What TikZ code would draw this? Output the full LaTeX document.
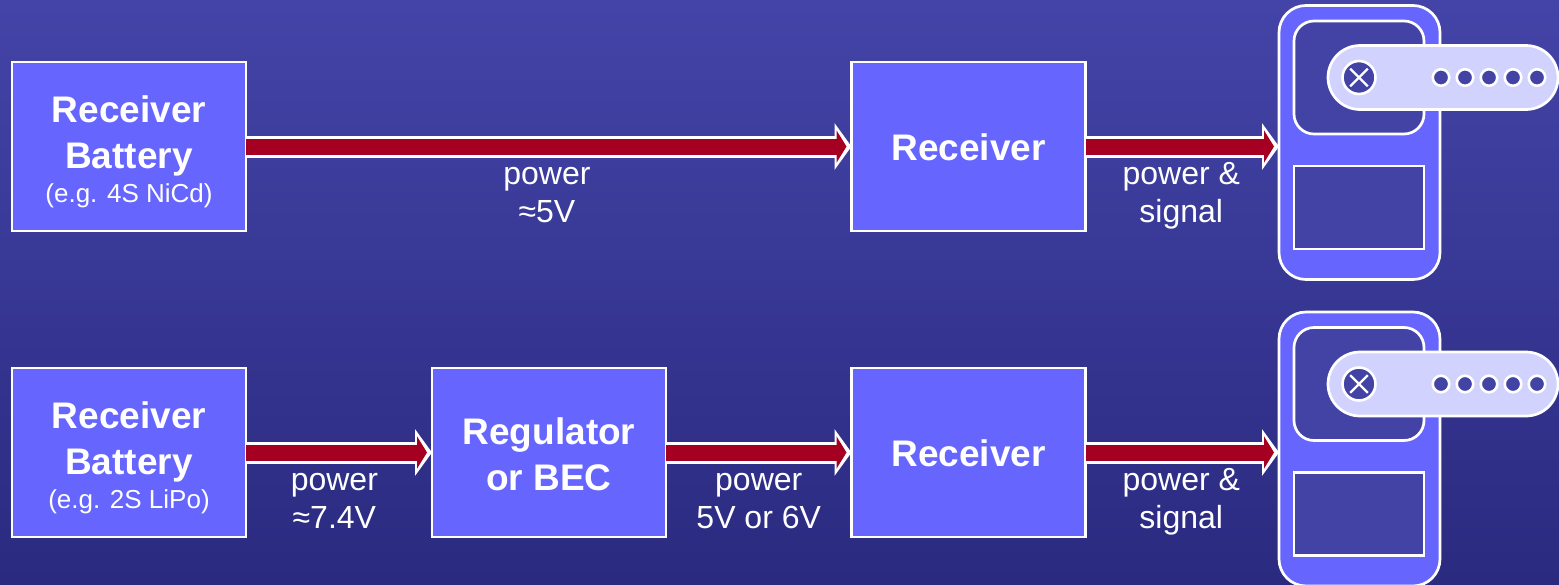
\documentclass[tikz,border=0pt]{standalone}
\usepackage{fontspec}
\setmainfont{Liberation Sans}
\usepackage{tikz}
\usetikzlibrary{arrows.meta,calc,positioning}
\definecolor{boxblue}{HTML}{6666FF}
\definecolor{panelblue}{HTML}{4343A5}
\definecolor{hornlilac}{HTML}{D2D2FF}
\definecolor{wirered}{HTML}{A50021}
\definecolor{bgtop}{HTML}{4444A8}
\definecolor{bgbottom}{HTML}{2A2A80}
\newcommand{\boxfont}{\fontsize{37}{46}\selectfont\bfseries}
\newcommand{\notefont}{\fontsize{26}{30}\selectfont\mdseries}
\newcommand{\toppad}[1]{\rule{0pt}{#1pt}}

\begin{document}
\begin{tikzpicture}[
  x=1pt, y=-1pt,
  node distance=137pt and 185.5pt,
  block/.style={
    draw=white,
    line width=2.7pt,
    fill=boxblue,
    text=white,
    align=center,
    minimum width=234pt,
    minimum height=169pt,
    inner sep=0pt,
    outer sep=0pt,
    font=\boxfont
  },
  wirelabel/.style={
    text=white,
    align=center,
    inner sep=0pt,
    font=\fontsize{32}{38}\selectfont
  },
  servobody/.style={
    draw=white, line width=2.7pt, fill=boxblue, rounded corners=27pt,
    minimum width=161pt, minimum height=274pt, inner sep=0pt, outer sep=0pt
  },
  servoface/.style={
    draw=white, line width=2.7pt, fill=panelblue,
    minimum width=130pt, inner sep=0pt, outer sep=0pt
  },
  horn/.style={
    draw=white, line width=2.7pt, fill=hornlilac, rounded corners=32pt,
    minimum width=230pt, minimum height=64pt, inner sep=0pt, outer sep=0pt
  },
  pivot/.style={
    circle, draw=white, line width=2.6pt, fill=panelblue,
    minimum size=33pt, inner sep=0pt, outer sep=0pt
  },
  hole/.style={
    circle, draw=white, line width=2.6pt, fill=panelblue,
    minimum size=16.5pt, inner sep=0pt, outer sep=0pt
  },
  powerarrow/.style={
    line width=16pt, draw=wirered, shorten >=5pt,
    -{Triangle[length=10pt,width=32pt,fill=wirered]},
    preaction={
      draw=white, line width=22pt, shorten >=0pt,
      -{Triangle[length=17pt,width=46pt,fill=white]}
    }
  }
]
\shade[top color=bgtop, bottom color=bgbottom] (0,0) rectangle (1559,584);
\useasboundingbox (0,0) rectangle (1559,584);

% top row
\node[block] (batteryA) at (129,146.5) {\toppad{38}Receiver\\[0pt]Battery\\[-12pt]{\notefont (e.g. 4S NiCd)}};
\node[block, right=605.5pt of batteryA] (receiverA) {\toppad{28}Receiver};

% bottom row
\node[block, below=of batteryA] (batteryB) {\toppad{38}Receiver\\[0pt]Battery\\[-12pt]{\notefont (e.g. 2S LiPo)}};
\node[block, right=186pt of batteryB] (regulator) {\toppad{30}Regulator\\[0pt]or BEC};
\node[block, right=of regulator] (receiverB) {\toppad{28}Receiver};

% servos
\foreach \row/\shift in {A/0,B/306.5} {
  \node[servobody] (servo\row) at (1359.5,142.5+\shift) {};
  \node[servoface, minimum height=113pt, rounded corners=20pt] (upper\row) at (1359,77.5+\shift) {};
  \node[servoface, minimum height=83pt] (lower\row) at (1359,207.5+\shift) {};
  \node[horn] (horn\row) at (1443,77.5+\shift) {};
  \node[pivot] (pivot\row) at (1359,77.5+\shift) {};
  \draw[white, line width=2.4pt, shorten >=4pt, shorten <=4pt] (pivot\row.45) -- (pivot\row.225);
  \draw[white, line width=2.4pt, shorten >=4pt, shorten <=4pt] (pivot\row.135) -- (pivot\row.315);
  \foreach \n in {0,...,4}
    \node[hole] (hole\row\n) at (1441+24*\n,77.5+\shift) {};
}

\draw[powerarrow] (batteryA.east) -- (receiverA.west);
\draw[powerarrow] (batteryB.east) -- (regulator.west);
\draw[powerarrow] (regulator.east) -- (receiverB.west);
\foreach \row in {A,B}
  \draw[powerarrow] (receiver\row.east) -- (receiver\row.east -| servo\row.west);

\node[wirelabel, below=11.5pt of $(batteryA.east)!0.497!(receiverA.west)$] (supplyA) {\strut power\\≈5V};
\node[wirelabel, below=11.5pt of $(batteryB.east)!0.475!(regulator.west)$] (supplyB) {\strut power\\≈7.4V};
\node[wirelabel, below=11.5pt of $(regulator.east)!0.5!(receiverB.west)$] (supplyC) {\strut power\\5V or 6V};
\foreach \row in {A,B}
  \node[wirelabel, below=11.5pt of $(receiver\row.east)!0.495!(receiver\row.east -| servo\row.west)$] (signal\row) {\strut power \&\\signal};
\end{tikzpicture}
\end{document}
